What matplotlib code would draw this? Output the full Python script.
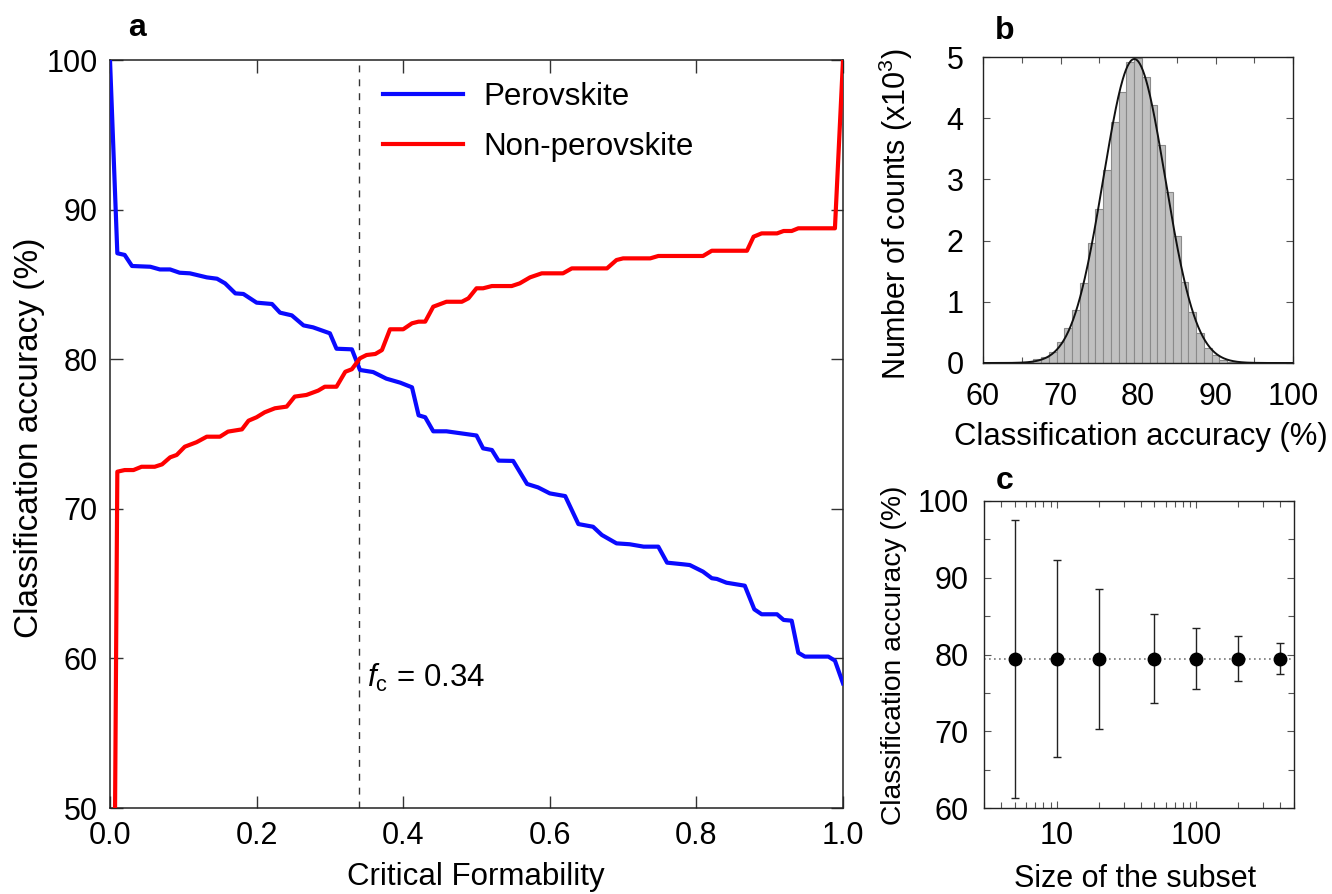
import numpy as np
import matplotlib
matplotlib.use("Agg")
import matplotlib.pyplot as plt
from matplotlib.ticker import MultipleLocator, LogLocator, NullFormatter, FixedLocator

plt.rcParams['font.family'] = ['Liberation Sans', 'DejaVu Sans']
plt.rcParams['mathtext.fontset'] = 'custom'
plt.rcParams['mathtext.rm'] = 'Liberation Sans'
plt.rcParams['mathtext.it'] = 'Liberation Sans:italic'

# ---------------- data: panel a ----------------
blue_f = [0.0, 0.01, 0.02, 0.03, 0.055, 0.068, 0.082, 0.095, 0.109, 0.132,
          0.146, 0.157, 0.171, 0.182, 0.200, 0.221, 0.232, 0.248, 0.264, 0.277,
          0.300, 0.309, 0.330, 0.341, 0.359, 0.377, 0.396, 0.412, 0.421, 0.430,
          0.441, 0.459, 0.500, 0.509, 0.521, 0.530, 0.550, 0.569, 0.584, 0.600,
          0.621, 0.639, 0.659, 0.671, 0.691, 0.709, 0.728, 0.748, 0.760, 0.782,
          0.791, 0.809, 0.821, 0.828, 0.841, 0.866, 0.879, 0.889, 0.910, 0.919,
          0.930, 0.939, 0.948, 0.980, 0.989, 1.0]
blue_acc = [100.0, 87.08, 86.97, 86.23, 86.18, 86.0, 86.0, 85.78, 85.74, 85.47,
            85.38, 85.07, 84.40, 84.36, 83.78, 83.69, 83.11, 82.93, 82.26, 82.13,
            81.73, 80.70, 80.66, 79.28, 79.14, 78.70, 78.43, 78.12, 76.25, 76.12,
            75.18, 75.18, 74.90, 74.04, 73.93, 73.22, 73.20, 71.66, 71.43, 71.03,
            70.85, 68.98, 68.80, 68.25, 67.69, 67.63, 67.47, 67.47, 66.40, 66.29,
            66.24, 65.80, 65.36, 65.31, 65.06, 64.86, 63.28, 62.95, 62.95, 62.57,
            62.52, 60.38, 60.12, 60.12, 59.85, 58.33]

red_f = [0.0, 0.01, 0.020, 0.032, 0.043, 0.061, 0.071, 0.082, 0.091, 0.102,
         0.118, 0.132, 0.150, 0.161, 0.180, 0.189, 0.200, 0.211, 0.225, 0.241,
         0.252, 0.268, 0.284, 0.293, 0.309, 0.321, 0.330, 0.341, 0.350, 0.362,
         0.371, 0.382, 0.400, 0.412, 0.421, 0.430, 0.441, 0.459, 0.480, 0.489,
         0.500, 0.509, 0.521, 0.548, 0.559, 0.573, 0.589, 0.618, 0.630, 0.678,
         0.691, 0.700, 0.737, 0.748, 0.809, 0.821, 0.869, 0.878, 0.889, 0.910,
         0.919, 0.930, 0.939, 0.989, 1.0]
red_acc = [0.0, 72.48, 72.59, 72.59, 72.81, 72.81, 72.97, 73.44, 73.60, 74.15,
           74.45, 74.82, 74.82, 75.16, 75.31, 75.89, 76.12, 76.45, 76.72, 76.83,
           77.50, 77.61, 77.90, 78.16, 78.16, 79.16, 79.33, 80.06, 80.28, 80.35,
           80.61, 82.00, 82.00, 82.40, 82.51, 82.51, 83.51, 83.84, 83.84, 84.07,
           84.74, 84.74, 84.89, 84.89, 85.07, 85.47, 85.74, 85.74, 86.07, 86.07,
           86.63, 86.74, 86.74, 86.90, 86.90, 87.25, 87.25, 88.19, 88.41, 88.41,
           88.57, 88.57, 88.75, 88.75, 100.0]

f_critical = 0.34
series_labels = ["Perovskite", "Non-perovskite"]

# ---------------- data: panel b (histogram, counts x10^3) ----------------
hist_centers = [66, 67, 68, 69, 70, 71, 72, 73, 74, 75, 76, 77, 78, 79, 80,
                81, 82, 83, 84, 85, 86, 87, 88, 89, 90, 91, 92, 93]
hist_counts = [0.02, 0.06, 0.10, 0.18, 0.35, 0.57, 0.87, 1.30, 1.96, 2.51, 3.15,
               3.94, 4.42, 4.92, 4.98, 4.67, 4.22, 3.57, 2.80, 2.07, 1.33, 0.84,
               0.49, 0.25, 0.13, 0.05, 0.02, 0.01]

# ---------------- data: panel c ----------------
subset_size = [5, 10, 20, 50, 100, 200, 400]
subset_acc = [79.45, 79.45, 79.45, 79.45, 79.45, 79.45, 79.45]
subset_err = [18.1, 12.8, 9.1, 5.8, 4.0, 2.9, 2.0]

# ---------------- figure ----------------
W, H = 1332, 894
fig = plt.figure(figsize=(W / 100, H / 100), dpi=100)


def px_axes(l, t, r, b):
    return fig.add_axes([l / W, 1 - b / H, (r - l) / W, (b - t) / H])


def ftext(x, y, s, **kw):
    fig.text(x / W, 1 - y / H, s, **kw)


frame_c = '#222222'
TICK = 22

# ---- panel a ----
ax = px_axes(110, 60, 843, 808)
ax.plot(blue_f, blue_acc, color='#0a0aff', lw=3.0, label=series_labels[0], zorder=3)
ax.plot(red_f, red_acc, color='#ff0000', lw=3.0, label=series_labels[1], zorder=3)
ax.axvline(f_critical, color='#333333', lw=1.0, ls=(0, (5, 5)), zorder=2)
ax.set_xlim(0, 1)
ax.set_ylim(50, 100)
ax.xaxis.set_major_locator(MultipleLocator(0.2))
ax.yaxis.set_major_locator(MultipleLocator(10))
ax.xaxis.set_major_formatter(matplotlib.ticker.FormatStrFormatter('%.1f'))
ax.tick_params(direction='in', length=9, width=1, color='#333333', top=True, right=True,
               labelsize=TICK, pad=9)
for s in ax.spines.values():
    s.set_color(frame_c)
    s.set_linewidth(1.1)
ax.text(f_critical + 0.01, 58.7, r'$f_{\mathrm{c}}$ = 0.34', fontsize=22.5, va='center', ha='left')
leg = ax.legend(loc='upper left', bbox_to_anchor=((383 - 110) / 733, 1 - (82 - 60) / 748),
                frameon=False, fontsize=22.5, handlelength=2.56, handletextpad=0.64,
                labelspacing=0.65, borderpad=0, borderaxespad=0)
ftext(30, 438, 'Classification accuracy (%)', rotation=90, ha='center', va='center', fontsize=24)
ftext(476, 885, 'Critical Formability', ha='center', va='baseline', fontsize=22.5)
ftext(137, 28, 'a', ha='center', va='center', fontsize=23, fontweight='bold')

# ---- panel b ----
axb = px_axes(983, 57, 1293, 363)
centers = np.array(hist_centers, dtype=float)
counts = np.array(hist_counts, dtype=float)
axb.bar(centers, counts, width=1.0, color='#c0c0c0', edgecolor='#8a8a8a', linewidth=0.8, zorder=2)
total = counts.sum()
mu = (centers * counts).sum() / total
sigma = np.sqrt(((centers - mu) ** 2 * counts).sum() / total)
xs = np.linspace(60, 100, 400)
ys = total / (np.sqrt(2 * np.pi) * sigma) * np.exp(-0.5 * ((xs - mu) / sigma) ** 2)
axb.plot(xs, ys, color='#111111', lw=1.4, zorder=3)
axb.set_xlim(60, 100)
axb.set_ylim(0, 5)
axb.xaxis.set_major_locator(MultipleLocator(10))
axb.xaxis.set_minor_locator(MultipleLocator(5))
axb.yaxis.set_major_locator(MultipleLocator(1))
axb.tick_params(which='both', direction='in', top=True, right=True, color='#555555',
                labelsize=TICK)
axb.tick_params(axis='x', which='both', pad=14)
axb.tick_params(axis='y', which='both', pad=14)
axb.tick_params(which='major', length=5, width=0.8)
axb.tick_params(which='minor', length=4, width=0.8)
for s in axb.spines.values():
    s.set_color(frame_c)
    s.set_linewidth(1.0)
ftext(896, 214, r'Number of counts (x10$^{3}$)', rotation=90, ha='center', va='center', fontsize=22)
ftext(1141, 445, 'Classification accuracy (%)', ha='center', va='baseline', fontsize=22.3)
ftext(1005, 31, 'b', ha='center', va='center', fontsize=23, fontweight='bold')

# ---- panel c ----
axc = px_axes(984, 501, 1294, 808)
axc.axhline(subset_acc[0], color='#777777', lw=1.2, ls=(0, (1, 2)), zorder=1)
axc.errorbar(subset_size, subset_acc, yerr=subset_err, fmt='o', color='black',
             ms=9, ecolor='#222222', elinewidth=1.0, capsize=3, capthick=1.0, zorder=3)
axc.set_xscale('log')
axc.set_xlim(3, 500)
axc.set_ylim(60, 100)
axc.xaxis.set_major_locator(FixedLocator([10, 100]))
axc.xaxis.set_major_formatter(matplotlib.ticker.FixedFormatter(['10', '100']))
axc.xaxis.set_minor_locator(LogLocator(base=10, subs=np.arange(2, 10)))
axc.xaxis.set_minor_formatter(NullFormatter())
axc.yaxis.set_major_locator(MultipleLocator(10))
axc.yaxis.set_minor_locator(MultipleLocator(5))
axc.tick_params(which='both', direction='in', top=True, right=True, color='#555555',
                labelsize=TICK)
axc.tick_params(axis='x', which='both', pad=9)
axc.tick_params(axis='y', which='both', pad=11)
axc.tick_params(which='major', length=5, width=0.8)
axc.tick_params(which='minor', length=4, width=0.8)
for s in axc.spines.values():
    s.set_color(frame_c)
    s.set_linewidth(1.0)
ftext(894, 655, 'Classification accuracy (%)', rotation=90, ha='center', va='center', fontsize=20.3)
ftext(1135, 887, 'Size of the subset', ha='center', va='baseline', fontsize=22)
ftext(1005, 481, 'c', ha='center', va='center', fontsize=23, fontweight='bold')

fig.savefig('out.png', dpi=100)
